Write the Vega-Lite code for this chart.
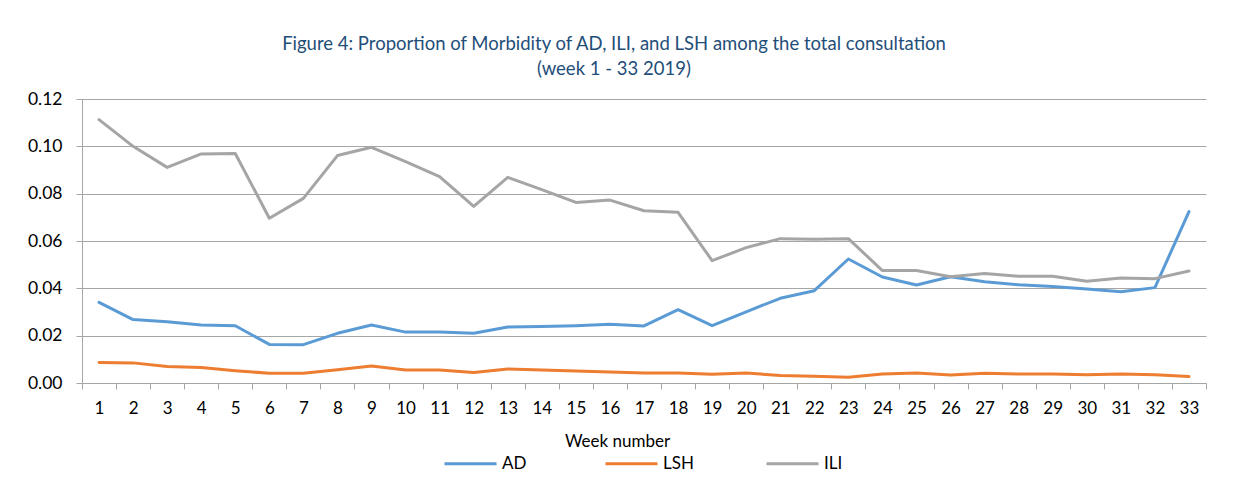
{
  "$schema": "https://vega.github.io/schema/vega-lite/v6.json",
  "autosize": "none",
  "width": 1124,
  "height": 284,
  "padding": {"left": 82, "top": 99, "right": 30, "bottom": 108},
  "background": "white",
  "title": {
    "text": ["Figure 4: Proportion of Morbidity of AD, ILI, and LSH among the total consultation", "(week 1 - 33 2019)"],
    "anchor": "middle",
    "frame": "group",
    "dx": -30,
    "offset": 12,
    "fontSize": 18.5,
    "lineHeight": 25,
    "font": "Lato",
    "fontWeight": "normal",
    "color": "#1F4E79"
  },
  "config": {
    "view": {"stroke": null},
    "font": "Lato"
  },
  "data": {
    "values": [
      {"week": 1, "series": "AD", "value": 0.0341}, {"week": 2, "series": "AD", "value": 0.0268}, {"week": 3, "series": "AD", "value": 0.0259},
      {"week": 4, "series": "AD", "value": 0.0245}, {"week": 5, "series": "AD", "value": 0.0242}, {"week": 6, "series": "AD", "value": 0.0163},
      {"week": 7, "series": "AD", "value": 0.0162}, {"week": 8, "series": "AD", "value": 0.0210}, {"week": 9, "series": "AD", "value": 0.0245},
      {"week": 10, "series": "AD", "value": 0.0215}, {"week": 11, "series": "AD", "value": 0.0215}, {"week": 12, "series": "AD", "value": 0.0210},
      {"week": 13, "series": "AD", "value": 0.0237}, {"week": 14, "series": "AD", "value": 0.0239}, {"week": 15, "series": "AD", "value": 0.0242},
      {"week": 16, "series": "AD", "value": 0.0248}, {"week": 17, "series": "AD", "value": 0.0241}, {"week": 18, "series": "AD", "value": 0.0310},
      {"week": 19, "series": "AD", "value": 0.0242}, {"week": 20, "series": "AD", "value": 0.0301}, {"week": 21, "series": "AD", "value": 0.0358},
      {"week": 22, "series": "AD", "value": 0.0390}, {"week": 23, "series": "AD", "value": 0.0524}, {"week": 24, "series": "AD", "value": 0.0448},
      {"week": 25, "series": "AD", "value": 0.0414}, {"week": 26, "series": "AD", "value": 0.0449}, {"week": 27, "series": "AD", "value": 0.0428},
      {"week": 28, "series": "AD", "value": 0.0415}, {"week": 29, "series": "AD", "value": 0.0408}, {"week": 30, "series": "AD", "value": 0.0397},
      {"week": 31, "series": "AD", "value": 0.0386}, {"week": 32, "series": "AD", "value": 0.0403}, {"week": 33, "series": "AD", "value": 0.0724},

      {"week": 1, "series": "LSH", "value": 0.0087}, {"week": 2, "series": "LSH", "value": 0.0085}, {"week": 3, "series": "LSH", "value": 0.0070},
      {"week": 4, "series": "LSH", "value": 0.0065}, {"week": 5, "series": "LSH", "value": 0.0052}, {"week": 6, "series": "LSH", "value": 0.0041},
      {"week": 7, "series": "LSH", "value": 0.0041}, {"week": 8, "series": "LSH", "value": 0.0056}, {"week": 9, "series": "LSH", "value": 0.0072},
      {"week": 10, "series": "LSH", "value": 0.0055}, {"week": 11, "series": "LSH", "value": 0.0055}, {"week": 12, "series": "LSH", "value": 0.0044},
      {"week": 13, "series": "LSH", "value": 0.0059}, {"week": 14, "series": "LSH", "value": 0.0055}, {"week": 15, "series": "LSH", "value": 0.0051},
      {"week": 16, "series": "LSH", "value": 0.0046}, {"week": 17, "series": "LSH", "value": 0.0042}, {"week": 18, "series": "LSH", "value": 0.0042},
      {"week": 19, "series": "LSH", "value": 0.0037}, {"week": 20, "series": "LSH", "value": 0.0042}, {"week": 21, "series": "LSH", "value": 0.0032},
      {"week": 22, "series": "LSH", "value": 0.0028}, {"week": 23, "series": "LSH", "value": 0.0024}, {"week": 24, "series": "LSH", "value": 0.0038},
      {"week": 25, "series": "LSH", "value": 0.0042}, {"week": 26, "series": "LSH", "value": 0.0034}, {"week": 27, "series": "LSH", "value": 0.0041},
      {"week": 28, "series": "LSH", "value": 0.0038}, {"week": 29, "series": "LSH", "value": 0.0038}, {"week": 30, "series": "LSH", "value": 0.0035},
      {"week": 31, "series": "LSH", "value": 0.0038}, {"week": 32, "series": "LSH", "value": 0.0035}, {"week": 33, "series": "LSH", "value": 0.0027},

      {"week": 1, "series": "ILI", "value": 0.1113}, {"week": 2, "series": "ILI", "value": 0.1000}, {"week": 3, "series": "ILI", "value": 0.0911},
      {"week": 4, "series": "ILI", "value": 0.0968}, {"week": 5, "series": "ILI", "value": 0.0970}, {"week": 6, "series": "ILI", "value": 0.0696},
      {"week": 7, "series": "ILI", "value": 0.0780}, {"week": 8, "series": "ILI", "value": 0.0961}, {"week": 9, "series": "ILI", "value": 0.0996},
      {"week": 10, "series": "ILI", "value": 0.0935}, {"week": 11, "series": "ILI", "value": 0.0872}, {"week": 12, "series": "ILI", "value": 0.0746},
      {"week": 13, "series": "ILI", "value": 0.0869}, {"week": 14, "series": "ILI", "value": 0.0817}, {"week": 15, "series": "ILI", "value": 0.0763},
      {"week": 16, "series": "ILI", "value": 0.0773}, {"week": 17, "series": "ILI", "value": 0.0728}, {"week": 18, "series": "ILI", "value": 0.0721},
      {"week": 19, "series": "ILI", "value": 0.0517}, {"week": 20, "series": "ILI", "value": 0.0572}, {"week": 21, "series": "ILI", "value": 0.0610},
      {"week": 22, "series": "ILI", "value": 0.0607}, {"week": 23, "series": "ILI", "value": 0.0610}, {"week": 24, "series": "ILI", "value": 0.0475},
      {"week": 25, "series": "ILI", "value": 0.0475}, {"week": 26, "series": "ILI", "value": 0.0449}, {"week": 27, "series": "ILI", "value": 0.0463},
      {"week": 28, "series": "ILI", "value": 0.0451}, {"week": 29, "series": "ILI", "value": 0.0451}, {"week": 30, "series": "ILI", "value": 0.0430},
      {"week": 31, "series": "ILI", "value": 0.0444}, {"week": 32, "series": "ILI", "value": 0.0441}, {"week": 33, "series": "ILI", "value": 0.0473}
    ]
  },
  "mark": {"type": "line", "strokeWidth": 3, "strokeJoin": "round", "strokeCap": "round"},
  "encoding": {
    "x": {
      "field": "week",
      "type": "ordinal",
      "scale": {"type": "band", "paddingInner": 0, "paddingOuter": 0},
      "axis": {
        "title": "Week number",
        "titleFontSize": 17,
        "titleFontWeight": "normal",
        "titleColor": "#000000",
        "titleX": 535,
        "titleY": 58,
        "titleAlign": "center",
        "titleBaseline": "middle",
        "labelAngle": 0,
        "labelFontSize": 17,
        "labelColor": "#000000",
        "labelPadding": 11,
        "tickBand": "extent",
        "tickSize": 6,
        "tickColor": "#A6A6A6",
        "domainColor": "#A6A6A6",
        "grid": false
      }
    },
    "y": {
      "field": "value",
      "type": "quantitative",
      "scale": {"domain": [0, 0.12], "nice": false},
      "axis": {
        "title": null,
        "values": [0, 0.02, 0.04, 0.06, 0.08, 0.1, 0.12],
        "format": ".2f",
        "labelFontSize": 17.5,
        "labelColor": "#000000",
        "labelPadding": 14,
        "tickSize": 6,
        "tickColor": "#A6A6A6",
        "domainColor": "#A6A6A6",
        "grid": true,
        "gridColor": "#A6A6A6",
        "gridWidth": 1.2
      }
    },
    "color": {
      "field": "series",
      "type": "nominal",
      "scale": {"domain": ["AD", "LSH", "ILI"], "range": ["#5B9BD5", "#ED7D31", "#A5A5A5"]},
      "legend": {
        "title": null,
        "orient": "none",
        "legendX": 361,
        "legendY": 337,
        "direction": "horizontal",
        "symbolType": "stroke",
        "symbolSize": 2704,
        "symbolStrokeWidth": 3,
        "labelFontSize": 17,
        "labelColor": "#000000",
        "labelOffset": 4,
        "gridAlign": "all",
        "columnPadding": 66
      }
    }
  }
}
